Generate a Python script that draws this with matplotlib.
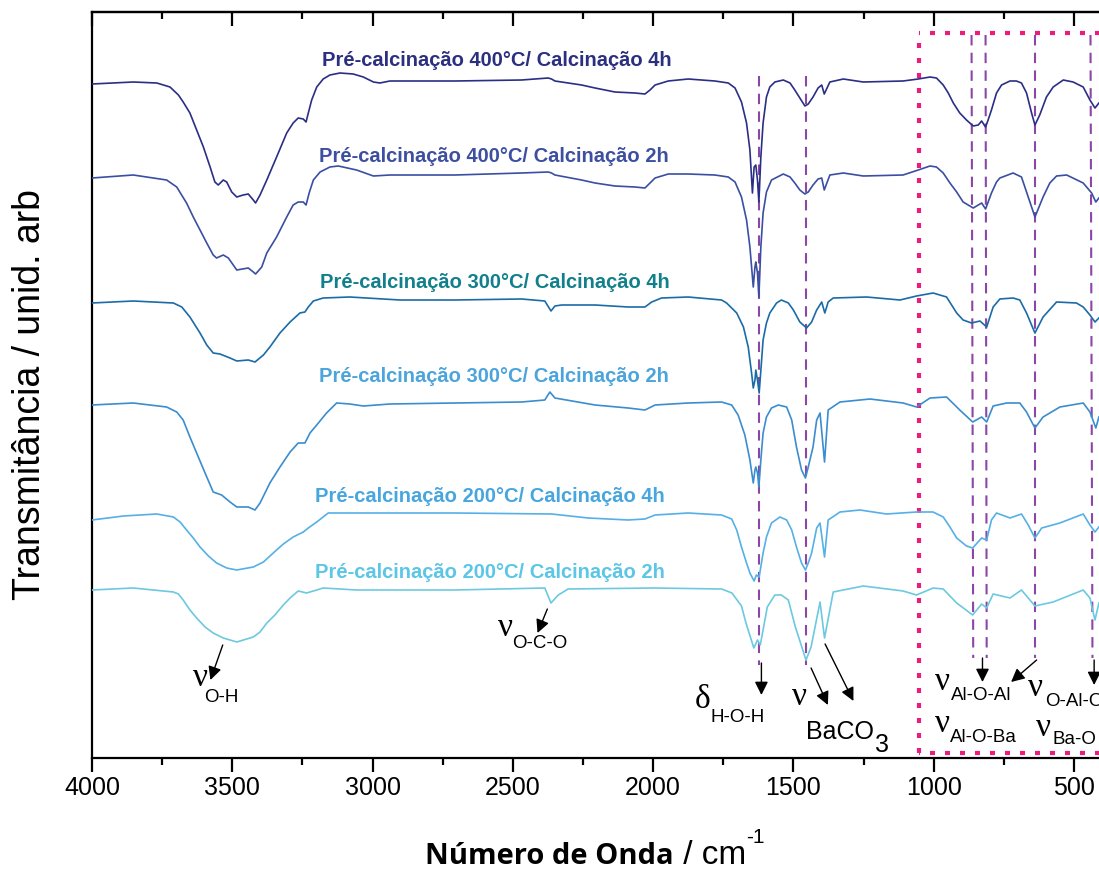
import matplotlib
matplotlib.use('Agg')
import matplotlib.pyplot as plt
from matplotlib.ticker import MultipleLocator

# ---------------- data (wavenumber / cm-1, transmittance a.u.) ----------------
wn1 = [4000, 3853, 3769, 3722, 3692, 3675, 3651, 3627, 3603, 3579, 3562, 3550, 3532, 3520, 3502, 3484,
       3461, 3443, 3425, 3417, 3401, 3377, 3342, 3306, 3283, 3265, 3247, 3237, 3229, 3217, 3199, 3176,
       3152, 3116, 3069, 3033, 2997, 2974, 2938,
       2706, 2469, 2374, 2362, 2350, 2255, 2207, 2136, 2065, 2029, 2011, 1993, 1946, 1875, 1780, 1732,
       1708, 1685, 1667, 1655, 1646, 1640, 1634, 1628, 1623, 1616, 1608, 1596, 1584, 1566, 1536, 1512,
       1495, 1477, 1459, 1447, 1430, 1412, 1399,
       1390, 1370, 1322, 1251, 1109, 1055, 1013, 990, 966, 948, 930, 907, 883, 859, 841, 829, 815, 806,
       794, 776, 758, 728, 705, 687, 669, 651, 639, 622, 598, 574, 538, 503, 467, 443, 425, 411]
t1 = [67.4, 67.6, 67.5, 67.1, 66.3, 65.6, 64.5, 62.8, 61.1, 59.1, 57.6, 57.3, 57.8, 57.6, 56.6, 56.1,
      56.3, 56.4, 55.8, 55.5, 56.3, 57.8, 60.1, 62.5, 63.5, 64.0, 63.9, 63.6, 64.5, 65.8, 67.1, 67.9,
      68.3, 68.5, 68.4, 68.1, 67.6, 67.5, 67.7,
      67.7, 67.8, 68.0, 67.9, 67.7, 67.3, 67.0, 66.6, 66.5, 66.4, 66.8, 67.3, 67.7, 67.9, 67.7, 67.5,
      67.0, 65.6, 63.5, 60.8, 56.5, 59.1, 59.3, 57.8, 55.6, 60.1, 63.5, 66.1, 67.1, 67.6, 67.8, 67.5,
      66.8, 66.0, 65.2, 65.4, 66.1, 67.0, 67.3,
      66.4, 67.6, 67.9, 67.6, 67.7, 67.9, 68.1, 68.0, 67.3, 66.5, 65.5, 64.5, 63.8, 63.2, 63.3, 63.7, 63.1, 63.8,
      64.8, 66.5, 67.3, 67.7, 67.7, 67.5, 66.5, 64.5, 63.3, 64.3, 66.1, 67.1, 67.8, 67.6, 67.1, 65.8, 65.0, 65.5]

wn2 = [4000, 3853, 3734, 3698, 3663, 3639, 3615, 3591, 3568, 3556, 3532, 3514, 3484, 3443, 3425, 3417,
       3395, 3377, 3342, 3306, 3283, 3265, 3247, 3237, 3226, 3211, 3187, 3152, 3122, 3057, 2997, 2938,
       2706, 2469, 2374, 2362, 2350, 2255, 2207, 2136, 2065, 2029, 2011, 1993, 1946, 1875, 1780, 1732,
       1708, 1685, 1667, 1655, 1643, 1637, 1634, 1628, 1623, 1616, 1608, 1596, 1578, 1536, 1512, 1495,
       1477, 1459, 1447, 1430, 1412, 1399,
       1390, 1370, 1322, 1251, 1109, 1055, 1013, 990, 966, 942, 918, 895, 859, 829, 815, 794, 776, 764,
       717, 687, 663, 639, 610, 586, 562, 526, 467, 437, 422, 411]
t2 = [58.0, 58.3, 57.8, 57.1, 55.5, 54.1, 52.8, 51.5, 50.3, 50.0, 50.3, 50.0, 48.8, 49.0, 48.6, 48.4,
      49.1, 50.5, 52.1, 54.1, 55.3, 55.6, 55.6, 55.3, 56.5, 57.8, 58.6, 59.1, 59.2, 58.8, 58.2, 58.3,
      58.3, 58.5, 58.6, 58.5, 58.3, 57.8, 57.5, 57.2, 57.1, 57.0, 57.5, 58.0, 58.4, 58.4, 58.3, 58.1,
      57.6, 56.1, 53.8, 51.1, 47.1, 49.1, 49.6, 48.5, 46.1, 51.1, 54.5, 56.6, 57.8, 58.4, 58.1, 57.5,
      56.8, 56.4, 56.6, 57.3, 57.9, 58.0,
      56.8, 58.3, 58.5, 58.2, 58.3, 58.8, 59.2, 59.1, 58.5, 57.5, 56.6, 55.6, 55.0, 55.5, 54.9, 56.5, 57.6, 58.0,
      58.5, 58.1, 56.1, 54.1, 56.1, 57.5, 58.2, 58.3, 57.5, 56.5, 55.6, 56.0]

wn3 = [4000, 3853, 3710, 3680, 3651, 3615, 3591, 3568, 3544, 3508, 3484, 3443, 3419, 3389, 3366, 3330,
       3294, 3259, 3241, 3229, 3211, 3176, 3081, 2962, 2902,
       2706, 2469, 2386, 2364, 2350, 2326, 2207, 2089, 2029, 2005, 1970, 1875, 1756, 1738, 1702, 1678,
       1661, 1649, 1643, 1637, 1634, 1628, 1622, 1614, 1608, 1596, 1584, 1560, 1543, 1518, 1500, 1477,
       1453, 1435, 1417, 1399, 1388, 1376, 1358, 1239, 1120, 1061, 1002, 954, 918, 895, 865, 835, 811,
       788, 764, 717, 693, 669, 639, 610, 562, 491, 467, 443, 425, 411]
t3 = [45.5, 45.7, 45.5, 45.1, 44.1, 42.5, 41.3, 40.5, 40.4, 40.0, 39.7, 39.8, 39.6, 40.3, 41.1, 42.5,
      43.6, 44.5, 44.6, 45.1, 45.7, 46.0, 46.1, 45.9, 45.8,
      45.8, 45.9, 45.7, 44.7, 45.2, 45.3, 45.3, 45.1, 45.1, 45.6, 46.0, 46.1, 45.8, 45.5, 44.5, 43.1,
      41.1, 38.5, 37.0, 37.8, 38.8, 37.8, 36.5, 39.5, 41.8, 43.5, 44.5, 45.5, 45.8, 45.5, 44.8, 43.6,
      43.0, 43.6, 44.8, 45.6, 44.5, 45.6, 46.0, 46.1, 45.8, 46.2, 46.5, 46.1, 44.5, 43.8, 43.5, 43.7, 43.1,
      45.1, 45.9, 46.0, 45.8, 44.5, 42.5, 44.1, 45.6, 45.5, 45.1, 44.3, 43.6, 44.0]

wn4 = [4000, 3853, 3734, 3698, 3675, 3651, 3627, 3597, 3568, 3538, 3508, 3484, 3443, 3419, 3401, 3366,
       3330, 3294, 3265, 3241, 3223, 3199, 3164, 3128, 3081, 3033, 2938,
       2706, 2469, 2386, 2368, 2350, 2207, 2089, 2029, 1993, 1875, 1756, 1720, 1697, 1673, 1655, 1643,
       1637, 1634, 1628, 1623, 1616, 1608, 1596, 1578, 1554, 1524, 1506, 1489, 1471, 1457, 1447, 1430,
       1417, 1405, 1389, 1376, 1334, 1227, 1109, 1061, 1013, 954, 907, 861, 829, 811, 788, 740, 693,
       669, 639, 610, 550, 467, 443, 422, 411]
t4 = [35.3, 35.5, 35.1, 34.6, 33.8, 32.1, 30.5, 28.5, 26.6, 26.3, 25.6, 25.1, 25.1, 24.8, 25.5, 27.5,
      29.1, 30.6, 31.5, 31.5, 32.5, 33.3, 34.5, 35.5, 35.4, 35.2, 35.4,
      35.5, 35.6, 35.8, 36.6, 36.0, 35.3, 35.0, 34.8, 35.3, 35.5, 35.6, 35.3, 34.3, 32.3, 29.8, 27.5,
      28.8, 29.1, 28.5, 27.1, 29.8, 32.5, 34.1, 35.0, 35.3, 35.1, 33.8, 31.1, 28.8, 28.0, 29.1, 31.1,
      33.8, 34.5, 29.6, 34.8, 35.6, 35.9, 35.5, 35.1, 36.0, 36.1, 34.8, 33.6, 34.1, 33.6, 35.2, 35.5, 35.5,
      34.6, 33.0, 34.1, 35.1, 35.5, 34.6, 33.0, 34.1]

wn5 = [4000, 3888, 3769, 3710, 3686, 3663, 3639, 3615, 3585, 3556, 3520, 3484, 3425, 3389, 3354, 3318,
       3283, 3247, 3229, 3199, 3158, 3057,
       2706, 2362, 2231, 2089, 2029, 1993, 1875, 1756, 1720, 1702, 1685, 1667, 1655, 1640, 1632, 1622,
       1608, 1596, 1578, 1548, 1524, 1506, 1489, 1471, 1457, 1447, 1435, 1417, 1405, 1389, 1376, 1334,
       1263, 1168, 1061, 1002, 966, 942, 918, 883, 861, 829, 811, 794, 776, 728, 687, 663, 639, 615,
       550, 467, 443, 425, 411]
t5 = [23.8, 24.2, 24.4, 24.1, 23.6, 22.8, 22.0, 21.1, 20.2, 19.5, 19.0, 18.8, 19.1, 19.6, 20.5, 21.4,
      22.1, 22.6, 23.0, 23.6, 24.5, 24.5,
      24.5, 24.4, 24.0, 23.8, 23.9, 24.3, 24.5, 24.3, 23.9, 22.8, 21.1, 19.5, 18.5, 17.7, 18.3, 18.1,
      20.5, 22.1, 23.5, 24.1, 23.8, 22.8, 21.1, 19.5, 18.8, 19.5, 20.5, 23.0, 23.5, 20.1, 23.8, 24.6,
      24.8, 24.4, 24.6, 24.6, 24.1, 23.1, 22.0, 21.2, 21.0, 22.0, 21.8, 23.8, 24.5, 24.0, 24.4, 23.3, 22.0, 23.0,
      23.5, 24.4, 23.3, 22.6, 23.1]

wn6 = [4000, 3853, 3710, 3692, 3675, 3651, 3627, 3597, 3568, 3532, 3484, 3425, 3401, 3377, 3348, 3318,
       3294, 3265, 3235, 3199, 3176, 3057,
       2706, 2386, 2364, 2338, 2303, 1993, 1756, 1719, 1685, 1669, 1641, 1628, 1618, 1593, 1566, 1543,
       1518, 1493, 1455, 1437, 1405, 1389, 1358, 1251, 1109, 1061, 1002, 966, 918, 861, 829, 811, 788,
       728, 687, 639, 574, 467, 443, 425, 411]
t6 = [16.8, 17.0, 16.6, 16.4, 15.8, 14.8, 14.0, 13.1, 12.5, 12.0, 11.6, 12.1, 12.6, 13.5, 14.3, 15.3,
      16.0, 16.7, 16.5, 16.8, 17.0, 16.8,
      16.8, 17.0, 15.5, 16.3, 16.9, 17.0, 16.9, 16.5, 15.2, 13.5, 11.0, 11.8, 11.3, 15.1, 16.3, 16.3,
      15.8, 13.1, 9.8, 11.1, 15.6, 12.0, 16.6, 17.2, 16.7, 16.3, 17.0, 16.9, 15.5, 14.3, 15.4, 15.0, 16.4,
      16.0, 16.8, 15.2, 15.6, 16.8, 16.0, 13.8, 15.5]

series_wn = [wn1, wn2, wn3, wn4, wn5, wn6]
series_t = [t1, t2, t3, t4, t5, t6]
line_colors = ["#2b2e85", "#3a4ea2", "#1b6ba7", "#3a8dcf", "#55b0e6", "#6cc9df"]
label_colors = ["#2b2f80", "#3d4fa0", "#12808c", "#4ba4dc", "#47a6df", "#5bc6e6"]
labels = ["Pré-calcinação 400°C/ Calcinação 4h",
          "Pré-calcinação 400°C/ Calcinação 2h",
          "Pré-calcinação 300°C/ Calcinação 4h",
          "Pré-calcinação 300°C/ Calcinação 2h",
          "Pré-calcinação 200°C/ Calcinação 4h",
          "Pré-calcinação 200°C/ Calcinação 2h"]
label_wn = [2557, 2567, 2564, 2567, 2582, 2582]
label_t = [69.8, 60.2, 47.6, 38.1, 26.1, 18.5]

# band marker lines
band_main_wn = [1623, 1455]
band_box_top_wn = [865, 815, 639, 441]
band_box_bot_wn = [859, 811, 639, 434]
box_left_wn = 1053

xticks = [4000, 3500, 3000, 2500, 2000, 1500, 1000, 500]

# ---------------- figure ----------------
W, H = 1099, 871
fig = plt.figure(figsize=(W / 100, H / 100), dpi=100)
ax_left, ax_bottom = 92 / W, 1 - 758 / H
ax_w, ax_h = (1102 - 92) / W, (758 - 12.5) / H
ax = fig.add_axes([ax_left, ax_bottom, ax_w, ax_h])
ax.set_xlim(4000, 400)
ax.set_ylim(0, 74.55)

for wn, t, c in zip(series_wn, series_t, line_colors):
    ax.plot(wn, t, color=c, lw=1.2, solid_joinstyle='round', zorder=3)

for lab, x, y, c in zip(labels, label_wn, label_t, label_colors):
    ax.text(x, y, lab, color=c, fontsize=14.5, fontweight='bold', family='Liberation Sans',
            ha='center', va='center', zorder=4)

purple = '#8c46a6'
for x in band_main_wn:
    ax.plot([x, x], [68.2, 9.3], color=purple, lw=1.5, ls=(0, (5, 3.5)), zorder=2)
for xt, xb in zip(band_box_top_wn, band_box_bot_wn):
    ax.plot([xt, xb], [72.3, 10.0], color=purple, lw=1.5, ls=(0, (5, 3.5)), zorder=2)

pink = '#ec1c7c'
ax.plot([box_left_wn, box_left_wn], [0.5, 72.5], color=pink, lw=3.0,
        ls=(0, (1.2, 2.4)), zorder=2, dash_capstyle='butt')
ax.plot([390, box_left_wn], [72.5, 72.5], color=pink, lw=3.0, ls=(0, (1.2, 2.4)), zorder=2,
        clip_on=False, dash_capstyle='butt')
ax.plot([390, box_left_wn], [0.5, 0.5], color=pink, lw=3.0, ls=(0, (1.2, 2.4)), zorder=2,
        clip_on=False, dash_capstyle='butt')

# annotations
aprops = dict(arrowstyle='-|>', mutation_scale=20, lw=1.0, color='k', shrinkA=0, shrinkB=0)
arrows = [((3534, 11.3), (3578, 7.8)),
          ((2377, 14.9), (2412, 12.5)),
          ((1614, 9.5), (1614, 6.3)),
          ((1437, 9.0), (1377, 5.3)),
          ((1387, 11.4), (1286, 5.7)),
          ((826, 10.0), (826, 7.6)),
          ((633, 9.8), (724, 7.6)),
          ((428, 9.8), (428, 7.3))]
for (x0, y0), (x1, y1) in arrows:
    ax.annotate('', xy=(x1, y1), xytext=(x0, y0), arrowprops=aprops, annotation_clip=False)

greek_fs = 24
sub_fs = 13.5
band_labels = [("ν", 3612, 8.0, "O-H", 3601, 6.1),
               ("ν", 2528, 13.0, "O-C-O", 2503, 11.5),
               ("δ", 1822, 5.8, "H-O-H", 1794, 4.1),
               ("ν", 967, 7.6, "Al-O-Al", 939, 6.2),
               ("ν", 636, 7.0, "O-Al-O", 604, 5.6),
               ("ν", 967, 3.4, "Al-O-Ba", 942, 2.0),
               ("ν", 607, 3.0, "Ba-O", 575, 1.8)]
for g, gx, gy, s, sx, sy in band_labels:
    ax.text(gx, gy, g, fontsize=greek_fs, family='Liberation Serif', ha='center', va='center')
    ax.text(sx, sy, s, fontsize=sub_fs, family='Liberation Sans', ha='left', va='center')
ax.text(1477, 6.1, "ν", fontsize=greek_fs, family='Liberation Serif', ha='center', va='center')
ax.text(1455, 2.6, "BaCO", fontsize=18, family='Liberation Sans', ha='left', va='center')
ax.text(1210, 1.3, "3", fontsize=18, family='Liberation Sans', ha='left', va='center')

# axes styling
for side in ['left', 'bottom', 'top']:
    ax.spines[side].set_linewidth(1.6)
ax.spines['right'].set_visible(False)
ax.set_yticks([])
ax.set_xticks(xticks)
ax.xaxis.set_minor_locator(MultipleLocator(250))
ax.tick_params(axis='x', which='major', direction='out', length=10, width=1.6, labelsize=18, pad=3)
ax.tick_params(axis='x', which='minor', direction='out', length=5, width=1.6)
for lab in ax.get_xticklabels():
    lab.set_family('Liberation Sans')
secax = ax.secondary_xaxis('top')
secax.set_xticks(xticks)
secax.xaxis.set_minor_locator(MultipleLocator(250))
secax.tick_params(axis='x', which='major', direction='in', length=10, width=1.6, labeltop=False)
secax.tick_params(axis='x', which='minor', direction='in', length=5, width=1.6)
secax.spines['top'].set_linewidth(1.6)

fig.text(30 / W, 1 - 394 / H, "Transmitância / unid. arb", rotation=90, fontsize=27,
         family='Liberation Sans', ha='center', va='center')

# x label in pieces
fig.canvas.draw()
r = fig.canvas.get_renderer()
yb = 1 - 864 / H
ta = fig.text(425 / W, yb, "Número de Onda", fontsize=21, fontweight='bold', family='Open Sans',
              ha='left', va='baseline')
bb = ta.get_window_extent(r)
tb = fig.text(bb.x1 / W, yb, " / cm", fontsize=24, family='Liberation Sans', ha='left', va='baseline')
bb2 = tb.get_window_extent(r)
fig.text(bb2.x1 / W, 1 - 843 / H, "-1", fontsize=15, family='Liberation Sans', ha='left', va='baseline')

fig.savefig('out.png', dpi=100)
